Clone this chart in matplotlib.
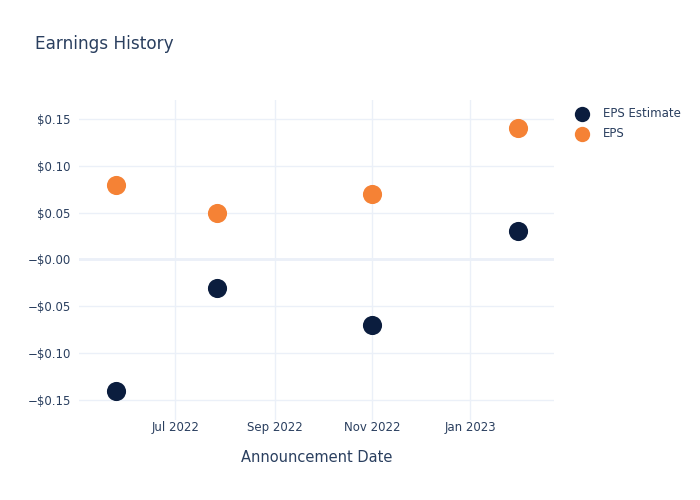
import pandas as pd
import matplotlib.pyplot as plt
import matplotlib.dates as mdates
from matplotlib.ticker import FuncFormatter, FixedLocator

dates = pd.to_datetime(['2022-05-25', '2022-07-27', '2022-11-01', '2023-01-31'])
eps_estimate = [-0.14, -0.03, -0.07, 0.03]
eps_actual = [0.08, 0.05, 0.07, 0.14]
y_ticks = [-0.15, -0.10, -0.05, 0.0, 0.05, 0.10, 0.15]

text_color = '#2a3f5f'
grid_color = '#ebf0f8'
navy = '#0b1d3e'
orange = '#f58235'


def money(value, pos):
    sign = '\u2212' if value <= 0 else ''
    return f"{sign}${abs(value):.2f}"


fig = plt.figure(figsize=(7, 5), dpi=100)
ax = fig.add_axes([0.1129, 0.16, 0.678, 0.64])

ax.scatter(dates, eps_estimate, s=190, color=navy, label='EPS Estimate', zorder=3, linewidths=0)
ax.scatter(dates, eps_actual, s=190, color=orange, label='EPS', zorder=3, linewidths=0)

ax.set_xlim(pd.Timestamp('2022-05-02'), pd.Timestamp('2023-02-22'))
ax.set_ylim(-0.1714, 0.1703)

ax.xaxis.set_major_locator(FixedLocator(mdates.date2num(pd.to_datetime(
    ['2022-07-01', '2022-09-01', '2022-11-01', '2023-01-01']))))
ax.xaxis.set_major_formatter(mdates.DateFormatter('%b %Y'))
ax.yaxis.set_major_locator(FixedLocator(y_ticks))
ax.yaxis.set_major_formatter(FuncFormatter(money))

ax.grid(True, color=grid_color, linewidth=1, zorder=0)
ax.axhline(0, color=grid_color, linewidth=2, zorder=1)
for spine in ax.spines.values():
    spine.set_visible(False)
ax.tick_params(length=0, labelsize=8.5, labelcolor=text_color, pad=6)
ax.tick_params(axis='x', pad=1)

ax.set_xlabel('Announcement Date', fontsize=10.5, color=text_color, labelpad=11)
fig.text(0.05, 0.912, 'Earnings History', fontsize=12.2, color=text_color, va='center')

ax.legend(loc='upper left', bbox_to_anchor=(1.021, 1.0), frameon=False,
          fontsize=8.5, labelcolor=text_color, handletextpad=0.7,
          labelspacing=0.62, borderaxespad=0.2, markerscale=0.8)

plt.savefig('out.png', dpi=100)
